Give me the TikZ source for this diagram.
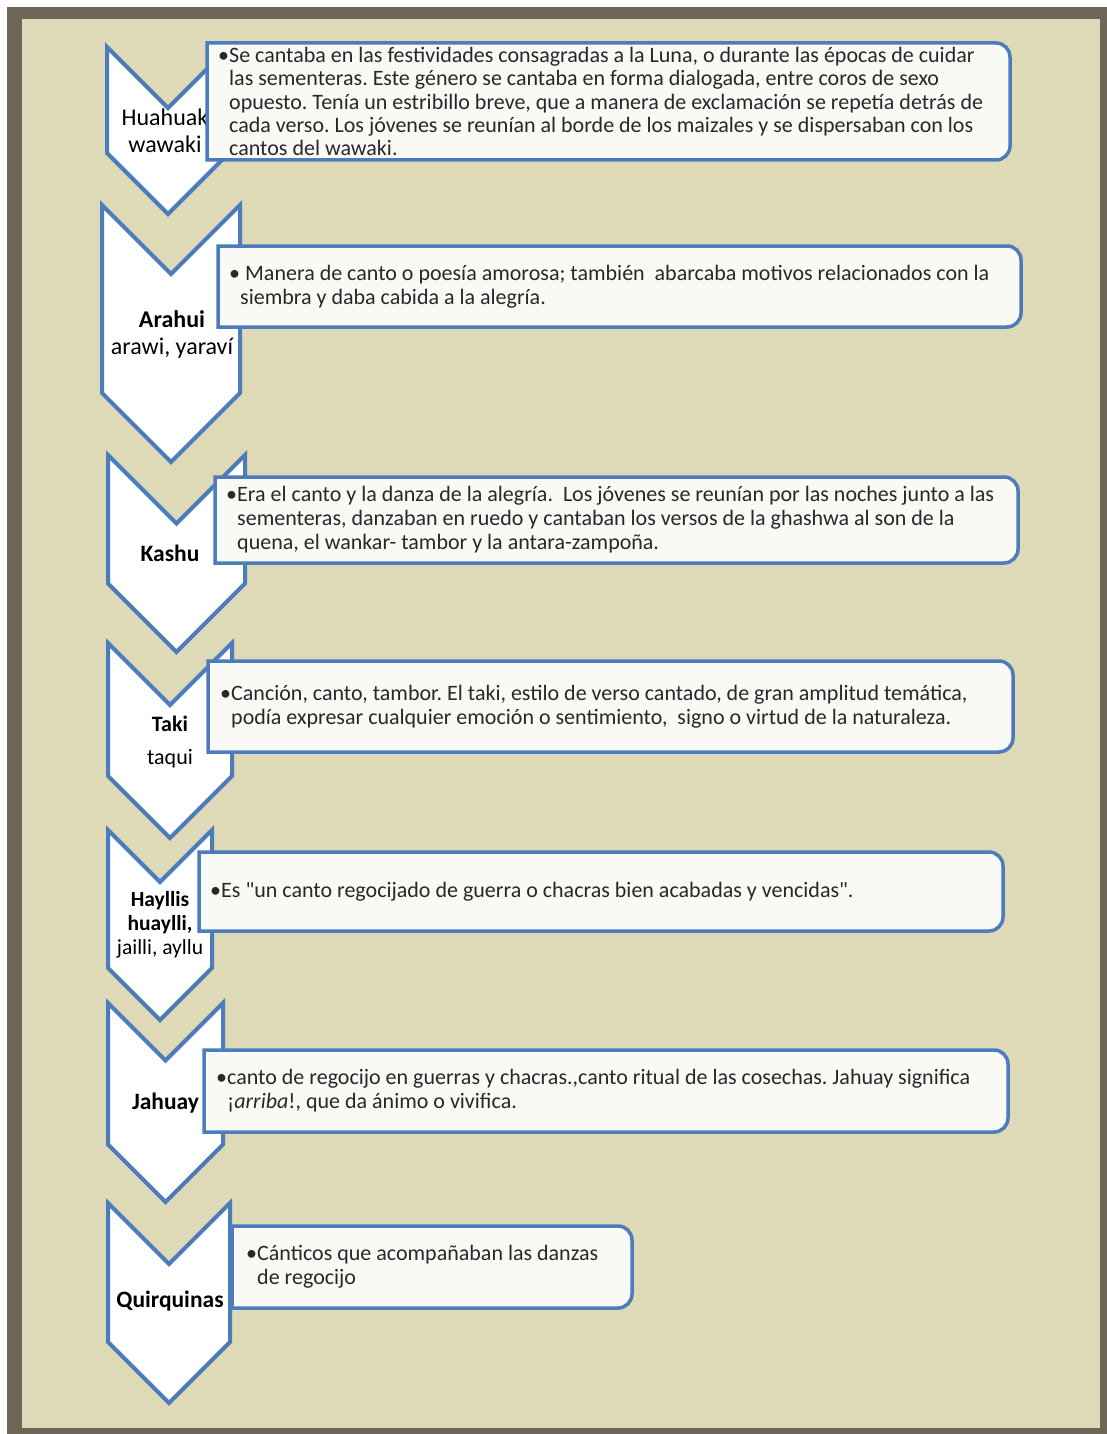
\documentclass[tikz,border=0pt]{standalone}
\usepackage{fontspec}
\setmainfont{Carlito}
\usepackage{xcolor}
\definecolor{paperbg}{RGB}{222,218,183}
\definecolor{framebd}{RGB}{109,102,87}
\definecolor{stepbd}{RGB}{76,124,187}
\definecolor{notebg}{RGB}{249,249,246}
\definecolor{inktext}{RGB}{40,40,40}
\newcommand\straightquote{\XeTeXglyph\XeTeXcharglyph"22\relax}
\frenchspacing

\begin{document}
\begin{tikzpicture}[
  x=1pt, y=1pt,
  chevron/.style={draw=stepbd, fill=white, line width=4pt},
  notebox/.style={draw=stepbd, fill=notebg, line width=3.5pt},
  genre/.style={font=\fontsize{23.5}{27}\selectfont, align=center, text=black, inner sep=0pt},
  notetext/.style={font=\fontsize{22}{24}\selectfont, align=left, text=inktext, anchor=west, inner sep=0pt},
]
\useasboundingbox (0,0) rectangle (1107,-1434);

% Frame
\fill[framebd] (7,-7) rectangle (1107,-1434);
\fill[paperbg] (22,-19) rectangle (1100,-1428);

% Huahuaki
\draw[chevron] (107,-47) -- (168,-108) -- (229,-47) -- (229,-153) -- (168,-214) -- (107,-153) -- cycle;
\node[genre, font=\fontsize{24}{27}\selectfont] (g1) at (165,-130.5) {Huahuak\\wawaki};
\draw[notebox] (207,-43) -- (996,-43) arc[start angle=90, end angle=0, radius=14]
  -- (1010,-146) arc[start angle=0, end angle=-90, radius=14] -- (207,-160) -- cycle;
\node[notetext, font=\fontsize{22}{23.3}\selectfont] (d1) at (229,-101.5) {\llap{•}Se cantaba en las festividades consagradas a la Luna, o durante las épocas de cuidar\\
las sementeras. Este género se cantaba en forma dialogada, entre coros de sexo\\
opuesto. Tenía un estribillo breve, que a manera de exclamación se repetía detrás de\\
cada verso. Los jóvenes se reunían al borde de los maizales y se dispersaban con los\\
cantos del wawaki.};

% Arahui
\draw[chevron] (102,-205) -- (171,-274) -- (240,-205) -- (240,-393) -- (171,-462) -- (102,-393) -- cycle;
\node[genre, font=\fontsize{24}{27}\selectfont] (g2) at (172,-334.5) {\textbf{Arahui}\\arawi, yaraví};
\draw[notebox] (218,-246) -- (1007,-246) arc[start angle=90, end angle=0, radius=14]
  -- (1021,-313) arc[start angle=0, end angle=-90, radius=14] -- (218,-327) -- cycle;
\node[notetext] (d2) at (240,-286.5) {\llap{•}~Manera de canto o poesía amorosa; también \ abarcaba motivos relacionados con la\\
siembra y daba cabida a la alegría.};

% Kashu
\draw[chevron] (108,-455) -- (176.5,-523.5) -- (245,-455) -- (245,-583.5) -- (176.5,-652) -- (108,-583.5) -- cycle;
\node[genre] (g3) at (170,-553) {\textbf{Kashu}};
\draw[notebox] (215,-477) -- (1004,-477) arc[start angle=90, end angle=0, radius=14]
  -- (1018,-549) arc[start angle=0, end angle=-90, radius=14] -- (215,-563) -- cycle;
\node[notetext] (d3) at (237,-520) {\llap{•}Era el canto y la danza de la alegría. \ Los jóvenes se reunían por las noches junto a las\\
sementeras, danzaban en ruedo y cantaban los versos de la ghashwa al son de la\\
quena, el wankar- tambor y la antara-zampoña.};

% Taki
\draw[chevron] (108,-643) -- (170,-705) -- (232,-643) -- (232,-776) -- (170,-838) -- (108,-776) -- cycle;
\node[genre, font=\fontsize{22}{33}\selectfont] (g4) at (170,-742) {\textbf{Taki}\\taqui};
\draw[notebox] (208,-661) -- (999,-661) arc[start angle=90, end angle=0, radius=14]
  -- (1013,-738) arc[start angle=0, end angle=-90, radius=14] -- (208,-752) -- cycle;
\node[notetext] (d4) at (231,-706.5) {\llap{•}Canción, canto, tambor. El taki, estilo de verso cantado, de gran amplitud temática,\\
podía expresar cualquier emoción o sentimiento, \ signo o virtud de la naturaleza.};

% Hayllis
\draw[chevron] (108,-830) -- (160,-882) -- (212,-830) -- (212,-968) -- (160,-1020) -- (108,-968) -- cycle;
\node[genre, font=\fontsize{21.5}{24}\selectfont] (g5) at (160,-925) {\textbf{Hayllis}\\\textbf{huaylli,}\\jailli, ayllu};
\draw[notebox] (199,-852) -- (989,-852) arc[start angle=90, end angle=0, radius=14]
  -- (1003,-917) arc[start angle=0, end angle=-90, radius=14] -- (199,-931) -- cycle;
\node[notetext] (d5) at (221,-891.5) {\llap{•}Es \straightquote un canto regocijado de guerra o chacras bien acabadas y vencidas\straightquote.};

% Jahuay
\draw[chevron] (108,-1003) -- (165.5,-1060.5) -- (223,-1003) -- (223,-1144.5) -- (165.5,-1202) -- (108,-1144.5) -- cycle;
\node[genre] (g6) at (165.5,-1103) {\textbf{Jahuay}};
\draw[notebox] (204,-1050) -- (994,-1050) arc[start angle=90, end angle=0, radius=14]
  -- (1008,-1118) arc[start angle=0, end angle=-90, radius=14] -- (204,-1132) -- cycle;
\node[notetext] (d6) at (227,-1091) {\llap{•}canto de regocijo en guerras y chacras.,canto ritual de las cosechas. Jahuay significa\\
¡\textit{arriba}!, que da ánimo o vivifica.};

% Quirquinas
\draw[chevron] (108,-1203) -- (169,-1264) -- (230,-1203) -- (230,-1342) -- (169,-1403) -- (108,-1342) -- cycle;
\node[genre] (g7) at (170,-1301) {\textbf{Quirquinas}};
\draw[notebox] (232,-1226) -- (618,-1226) arc[start angle=90, end angle=0, radius=14]
  -- (632,-1294) arc[start angle=0, end angle=-90, radius=14] -- (232,-1308) -- cycle;
\node[notetext] (d7) at (257,-1267) {\llap{•}Cánticos que acompañaban las danzas\\
de regocijo};
\end{tikzpicture}
\end{document}
